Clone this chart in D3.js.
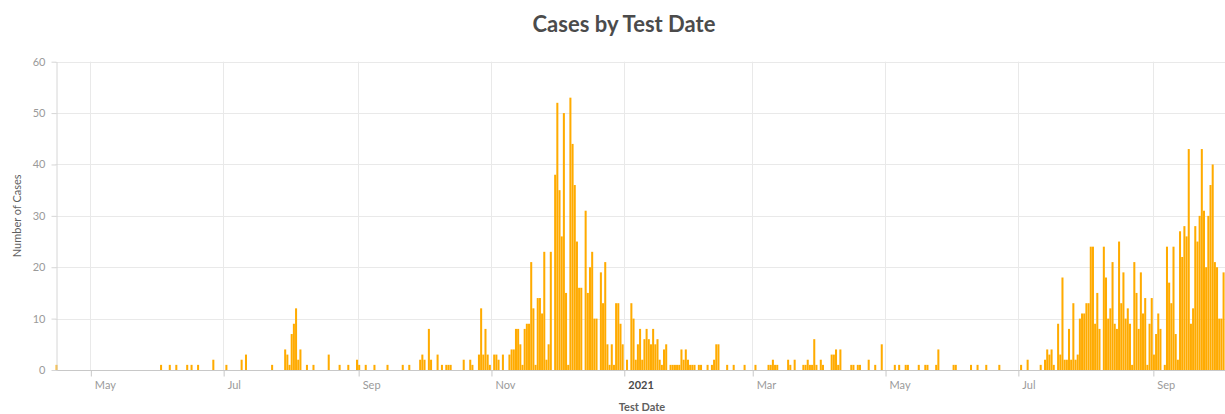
<!DOCTYPE html>
<html>
<head>
<meta charset="utf-8">
<script src="https://cdn.jsdelivr.net/npm/d3@7"></script>
<style>
    html, body { margin: 0; padding: 0; background: #fff; }
    svg { display: block; font-family: Lato, "Open Sans", sans-serif; }
</style>
</head>
<body>
<svg id="chart"></svg>
<script>
// daily cases, only days with at least one case (one line per month)
const case_dates = [
    "2020-04-15",
    "2020-06-02", "2020-06-06", "2020-06-09", "2020-06-14", "2020-06-16", "2020-06-19", "2020-06-26",
    "2020-07-02", "2020-07-09", "2020-07-11", "2020-07-23", "2020-07-29", "2020-07-30", "2020-07-31",
    "2020-08-01", "2020-08-02", "2020-08-03", "2020-08-04", "2020-08-05", "2020-08-08", "2020-08-11", "2020-08-18", "2020-08-23", "2020-08-27", "2020-08-31",
    "2020-09-01", "2020-09-04", "2020-09-08", "2020-09-14", "2020-09-21", "2020-09-24", "2020-09-29", "2020-09-30",
    "2020-10-01", "2020-10-03", "2020-10-04", "2020-10-07", "2020-10-09", "2020-10-11", "2020-10-12", "2020-10-13", "2020-10-19", "2020-10-22", "2020-10-23", "2020-10-26", "2020-10-27", "2020-10-28", "2020-10-29", "2020-10-30", "2020-10-31",
    "2020-11-02", "2020-11-03", "2020-11-04", "2020-11-06", "2020-11-09", "2020-11-10", "2020-11-11", "2020-11-12", "2020-11-13", "2020-11-14", "2020-11-15", "2020-11-16", "2020-11-17", "2020-11-18", "2020-11-19", "2020-11-20", "2020-11-21", "2020-11-22", "2020-11-23", "2020-11-24", "2020-11-25", "2020-11-26", "2020-11-27", "2020-11-28", "2020-11-30",
    "2020-12-01", "2020-12-02", "2020-12-03", "2020-12-04", "2020-12-05", "2020-12-06", "2020-12-07", "2020-12-08", "2020-12-09", "2020-12-10", "2020-12-11", "2020-12-12", "2020-12-14", "2020-12-15", "2020-12-16", "2020-12-17", "2020-12-18", "2020-12-19", "2020-12-21", "2020-12-22", "2020-12-23", "2020-12-24", "2020-12-25", "2020-12-26", "2020-12-27", "2020-12-28", "2020-12-29", "2020-12-30", "2020-12-31",
    "2021-01-02", "2021-01-04", "2021-01-05", "2021-01-06", "2021-01-07", "2021-01-08", "2021-01-09", "2021-01-10", "2021-01-11", "2021-01-12", "2021-01-13", "2021-01-14", "2021-01-15", "2021-01-16", "2021-01-17", "2021-01-18", "2021-01-19", "2021-01-20", "2021-01-22", "2021-01-23", "2021-01-24", "2021-01-25", "2021-01-26", "2021-01-27", "2021-01-28", "2021-01-29", "2021-01-30", "2021-01-31",
    "2021-02-01", "2021-02-02", "2021-02-04", "2021-02-05", "2021-02-08", "2021-02-10", "2021-02-11", "2021-02-12", "2021-02-13", "2021-02-17", "2021-02-20", "2021-02-25",
    "2021-03-02", "2021-03-08", "2021-03-09", "2021-03-10", "2021-03-11", "2021-03-12", "2021-03-17", "2021-03-18", "2021-03-20", "2021-03-24", "2021-03-25", "2021-03-26", "2021-03-27", "2021-03-28", "2021-03-29", "2021-03-30",
    "2021-04-01", "2021-04-02", "2021-04-06", "2021-04-07", "2021-04-08", "2021-04-09", "2021-04-10", "2021-04-15", "2021-04-16", "2021-04-18", "2021-04-19", "2021-04-23", "2021-04-26", "2021-04-29",
    "2021-05-05", "2021-05-07", "2021-05-10", "2021-05-11", "2021-05-16", "2021-05-19", "2021-05-20", "2021-05-24", "2021-05-25",
    "2021-06-01", "2021-06-02", "2021-06-09", "2021-06-12", "2021-06-16", "2021-06-22",
    "2021-07-02", "2021-07-05", "2021-07-11", "2021-07-13", "2021-07-14", "2021-07-15", "2021-07-16", "2021-07-17", "2021-07-19", "2021-07-20", "2021-07-21", "2021-07-22", "2021-07-23", "2021-07-24", "2021-07-25", "2021-07-26", "2021-07-27", "2021-07-28", "2021-07-29", "2021-07-30", "2021-07-31",
    "2021-08-01", "2021-08-02", "2021-08-03", "2021-08-04", "2021-08-05", "2021-08-06", "2021-08-07", "2021-08-09", "2021-08-10", "2021-08-11", "2021-08-12", "2021-08-13", "2021-08-14", "2021-08-15", "2021-08-16", "2021-08-17", "2021-08-18", "2021-08-19", "2021-08-20", "2021-08-21", "2021-08-22", "2021-08-23", "2021-08-24", "2021-08-25", "2021-08-26", "2021-08-27", "2021-08-28", "2021-08-29", "2021-08-30", "2021-08-31",
    "2021-09-01", "2021-09-02", "2021-09-03", "2021-09-04", "2021-09-06", "2021-09-07", "2021-09-08", "2021-09-09", "2021-09-10", "2021-09-11", "2021-09-12", "2021-09-13", "2021-09-14", "2021-09-15", "2021-09-16", "2021-09-17", "2021-09-18", "2021-09-19", "2021-09-20", "2021-09-21", "2021-09-22", "2021-09-23", "2021-09-24", "2021-09-25", "2021-09-26", "2021-09-27", "2021-09-28", "2021-09-29", "2021-09-30",
    "2021-10-01", "2021-10-02", "2021-10-03"
];
const case_counts = [
    1,
    1, 1, 1, 1, 1, 1, 2,
    1, 2, 3, 1, 4, 3, 1,
    7, 9, 12, 2, 4, 1, 1, 3, 1, 1, 2,
    1, 1, 1, 1, 1, 1, 2, 3,
    2, 8, 2, 3, 1, 1, 1, 1, 2, 2, 1, 3, 12, 3, 8, 3, 1,
    3, 3, 2, 3, 3, 4, 4, 8, 8, 5, 1, 8, 9, 9, 21, 12, 1, 14, 14, 11, 23, 2, 5, 23, 38,
    52, 35, 26, 50, 15, 1, 53, 44, 36, 25, 16, 16, 31, 15, 20, 23, 10, 10, 19, 13, 21, 5, 1, 5, 1, 13, 13, 9, 5,
    2, 13, 10, 2, 5, 8, 2, 6, 8, 6, 5, 8, 5, 6, 2, 1, 4, 5, 1, 1, 1, 1, 1, 4, 2, 4, 2, 1,
    1, 1, 1, 1, 1, 1, 2, 5, 5, 1, 1, 1,
    1, 1, 1, 2, 1, 1, 2, 1, 2, 1, 1, 2, 1, 1, 6, 1,
    2, 1, 3, 3, 4, 1, 4, 1, 1, 1, 1, 2, 1, 5,
    1, 1, 1, 1, 1, 1, 1, 1, 4,
    1, 1, 1, 1, 1, 1,
    1, 2, 1, 2, 4, 3, 4, 1, 9, 3, 18, 2, 2, 8, 2, 13, 2, 3, 10, 11, 11,
    13, 13, 24, 24, 9, 15, 8, 24, 18, 10, 12, 21, 9, 8, 25, 13, 19, 10, 12, 9, 1, 21, 15, 8, 19, 11, 14, 1, 9, 14,
    3, 7, 11, 8, 1, 24, 17, 13, 24, 7, 2, 27, 22, 28, 26, 43, 9, 12, 28, 25, 30, 43, 31, 20, 30, 36, 40, 21, 20,
    10, 10, 19
];
const y_ticks = [0, 10, 20, 30, 40, 50, 60];
const date_domain = ["2020-04-15", "2021-10-04"];

const width = 1225;
const height = 414;
const margin = {top: 61.7, left: 55.5, right: 0.3, bottom: 44};
const bar_color = '#ffab00';
const grid_color = '#e9e9e9';
const label_color = '#9a9a9a';

const parse = d3.utcParse('%Y-%m-%d');
const rows = case_dates.map((d, i) => ({date: parse(d), value: case_counts[i]}));

const svg = d3.select('#chart').attr('width', width).attr('height', height);
svg.append('rect').attr('width', width).attr('height', height).attr('fill', '#fff');

const x_scale = d3.scaleUtc()
    .domain(date_domain.map(parse))
    .range([margin.left, width - margin.right]);
const y_scale = d3.scaleLinear()
    .domain([0, 60])
    .range([height - margin.bottom, margin.top]);

const plot_bottom = y_scale(0);
const month_ticks = x_scale.ticks(d3.utcMonth.every(2));

// grid
svg.append('g').selectAll('line').data(y_ticks.slice(1)).join('line')
    .attr('x1', margin.left).attr('x2', width)
    .attr('y1', d => Math.round(y_scale(d)) + 0.5).attr('y2', d => Math.round(y_scale(d)) + 0.5)
    .attr('stroke', grid_color);
svg.append('g').selectAll('line').data(month_ticks).join('line')
    .attr('x1', d => Math.round(x_scale(d)) + 0.5).attr('x2', d => Math.round(x_scale(d)) + 0.5)
    .attr('y1', margin.top).attr('y2', plot_bottom)
    .attr('stroke', grid_color);

// bars
svg.append('g').selectAll('rect').data(rows).join('rect')
    .attr('x', d => x_scale(d.date) + 0.05)
    .attr('width', d => x_scale(d3.utcDay.offset(d.date, 1)) - x_scale(d.date) - 0.15)
    .attr('y', d => y_scale(d.value))
    .attr('height', d => plot_bottom - y_scale(d.value))
    .attr('fill', bar_color);

// x axis
const x_axis = d3.axisBottom(x_scale)
    .tickValues(month_ticks)
    .tickSizeInner(6)
    .tickSizeOuter(0)
    .tickPadding(5)
    .tickFormat(d => d.getUTCMonth() === 0 ? d3.utcFormat('%Y')(d) : d3.utcFormat('%b')(d));
const x_g = svg.append('g').attr('transform', `translate(0,${Math.round(plot_bottom) + 0.5})`).call(x_axis);
x_g.select('.domain').attr('stroke', '#c8c8c8').attr('d', `M${margin.left},0H${width}`);
x_g.selectAll('.tick line').attr('stroke', '#c8c8c8').attr('transform', 'translate(0.5,0)');
x_g.selectAll('.tick text')
    .attr('text-anchor', 'start')
    .attr('dx', 4)
    .attr('font-size', 11)
    .attr('font-family', 'Lato, sans-serif')
    .attr('fill', d => d.getUTCMonth() === 0 ? '#4a4a4a' : label_color)
    .attr('font-weight', d => d.getUTCMonth() === 0 ? 700 : 400);

// y axis
const y_axis = d3.axisLeft(y_scale)
    .tickValues(y_ticks)
    .tickSizeInner(5)
    .tickSizeOuter(0)
    .tickPadding(6);
const y_g = svg.append('g').attr('transform', `translate(${Math.round(margin.left) + 0.5},0)`).call(y_axis);
y_g.select('.domain').attr('stroke', '#d6d6d6');
y_g.selectAll('.tick line').attr('stroke', '#d6d6d6');
y_g.selectAll('.tick text')
    .attr('font-size', 11)
    .attr('font-family', 'Lato, sans-serif')
    .attr('fill', label_color);

// titles
svg.append('text')
    .attr('x', 624).attr('y', 32)
    .attr('text-anchor', 'middle')
    .attr('font-size', 22)
    .attr('font-weight', 700)
    .attr('fill', '#4b4b4b')
    .text('Cases by Test Date');
svg.append('text')
    .attr('transform', `translate(21,${(margin.top + plot_bottom) / 2}) rotate(-90)`)
    .attr('text-anchor', 'middle')
    .attr('font-size', 11)
    .attr('fill', '#5f5f5f')
    .text('Number of Cases');
svg.append('text')
    .attr('x', 642).attr('y', 411)
    .attr('text-anchor', 'middle')
    .attr('font-size', 11)
    .attr('font-weight', 700)
    .attr('fill', '#5f5f5f')
    .text('Test Date');
</script>
</body>
</html>
